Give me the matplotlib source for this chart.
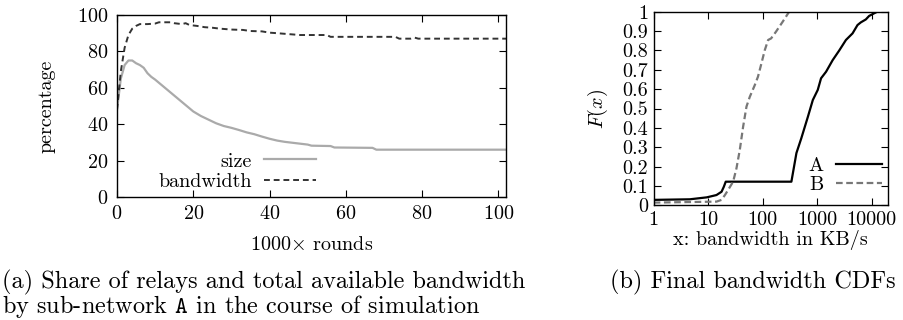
import matplotlib
matplotlib.use("Agg")
import matplotlib.pyplot as plt
import numpy as np
from matplotlib.ticker import FixedLocator, FixedFormatter, LogLocator, NullFormatter

plt.rcParams['font.family'] = 'serif'
plt.rcParams['font.serif'] = ['cmr10']
plt.rcParams['mathtext.fontset'] = 'cm'
plt.rcParams['axes.formatter.use_mathtext'] = True
plt.rcParams['axes.unicode_minus'] = False

# ---------------- data: panel (a) ----------------
rounds_size = [0, 1, 2, 3, 4, 5, 6, 7, 8, 9, 10, 12, 14, 16, 18, 20, 22, 24, 26, 28,
               30, 32, 34, 36, 38, 40, 42, 44, 46, 48, 50, 51, 56, 57, 67, 68, 102]
size_pct = [48, 65, 72.5, 75, 75, 73.5, 72.5, 71, 68, 66, 64.5, 61, 57.5, 54, 50.5, 47,
            44.5, 42.5, 40.5, 39, 38, 36.8, 35.5, 34.5, 33.2, 32, 31, 30.3, 29.8, 29.3,
            28.8, 28.2, 28, 27.2, 27, 26, 26]

rounds_bw = [0, 1, 2, 3, 4, 5, 6, 8, 10, 11, 14, 15, 17, 18, 19, 21, 23, 25, 27, 30,
             33, 35, 38, 40, 42, 45, 48, 55, 56, 73, 74, 77, 78, 79, 102]
bw_pct = [48, 69, 82, 89, 92.5, 94, 95, 95, 95.3, 96, 96, 95.5, 95, 95.5, 94.5, 94,
          93.3, 93, 92.5, 92, 91.8, 91.2, 91, 90.3, 90, 89.5, 89, 89, 88, 88, 87,
          87, 87.6, 87, 87]

a_xticks = [0, 20, 40, 60, 80, 100]
a_yticks = [0, 20, 40, 60, 80, 100]

# ---------------- data: panel (b) ----------------
bwA = [1, 4.6, 9.4, 14.2, 17.6, 19.4, 21, 337, 417, 512, 678, 834, 1027, 1180, 1460,
       1930, 2550, 3380, 4470, 5510, 6350, 7830, 9000, 11000, 12700, 20000]
cdfA = [0.028, 0.031, 0.041, 0.053, 0.07, 0.096, 0.122, 0.122, 0.27, 0.346, 0.458,
        0.544, 0.596, 0.656, 0.69, 0.75, 0.80, 0.854, 0.888, 0.931, 0.945, 0.96,
        0.978, 0.991, 1.0, 1.0]

bwB = [1, 14.2, 17.6, 20.3, 23.3, 28.7, 33, 38, 43.8, 50.5, 58, 71.5, 82, 95, 109,
       126, 143, 176, 233, 307, 20000]
cdfB = [0.014, 0.019, 0.028, 0.053, 0.08, 0.122, 0.19, 0.285, 0.406, 0.51, 0.56,
        0.62, 0.664, 0.733, 0.80, 0.854, 0.862, 0.897, 0.948, 1.0, 1.0]

b_xticks = [1, 10, 100, 1000, 10000]
b_xticklabels = ['1', '10', '100', '1000', '10000']
b_yticks = [0, 0.1, 0.2, 0.3, 0.4, 0.5, 0.6, 0.7, 0.8, 0.9, 1]
b_yticklabels = ['0', '0.1', '0.2', '0.3', '0.4', '0.5', '0.6', '0.7', '0.8', '0.9', '1']

FS = 14.5

fig = plt.figure(figsize=(9.04, 3.2), dpi=100)

# ---------- panel (a) ----------
ax1 = fig.add_axes([117/904, 1-197/320, 389/904, 182/320])
ax1.plot(rounds_size, size_pct, color='#aaaaaa', lw=1.6, label='size')
ax1.plot(rounds_bw, bw_pct, color='#333333', lw=1.4, ls=(0, (3, 2)), label='bandwidth')
ax1.set_xlim(0, 102)
ax1.set_ylim(0, 100)
ax1.xaxis.set_major_locator(FixedLocator(a_xticks))
ax1.yaxis.set_major_locator(FixedLocator(a_yticks))
ax1.tick_params(direction='in', top=True, right=True, length=5, width=0.8,
                labelsize=FS, pad=6)
ax1.set_ylabel('percentage', fontsize=FS, labelpad=16)
ax1.set_xlabel(r'1000$\times$ rounds', fontsize=FS, labelpad=9)
leg1 = ax1.legend(loc='lower right', bbox_to_anchor=(0.512, 0.035), frameon=False,
                  markerfirst=False, fontsize=FS, handlelength=2.6, handletextpad=0.6,
                  labelspacing=0.1, borderpad=0, borderaxespad=0)

# ---------- panel (b) ----------
ax2 = fig.add_axes([653.7/904, 1-205.3/320, 234.3/904, 193.6/320])
ax2.plot(bwA, cdfA, color='black', lw=1.6, label='A')
ax2.plot(bwB, cdfB, color='#777777', lw=1.6, ls=(0, (3, 1.6)), label='B')
ax2.set_xscale('log')
ax2.set_xlim(1, 20000)
ax2.set_ylim(0, 1)
ax2.xaxis.set_major_locator(FixedLocator(b_xticks))
ax2.xaxis.set_major_formatter(FixedFormatter(b_xticklabels))
ax2.xaxis.set_minor_locator(LogLocator(base=10, subs=np.arange(2, 10)))
ax2.xaxis.set_minor_formatter(NullFormatter())
ax2.yaxis.set_major_locator(FixedLocator(b_yticks))
ax2.yaxis.set_major_formatter(FixedFormatter(b_yticklabels))
ax2.tick_params(which='major', direction='in', top=True, right=True, length=5,
                width=0.8, labelsize=FS, pad=4)
ax2.tick_params(which='minor', direction='in', top=True, right=True, length=2.5,
                width=0.6)
ax2.set_ylabel(r'$F(x)$', fontsize=FS, labelpad=9)
ax2.set_xlabel('x: bandwidth in KB/s', fontsize=FS, labelpad=1)
leg2 = ax2.legend(loc='lower right', bbox_to_anchor=(0.975, 0.06), frameon=False,
                  markerfirst=False, fontsize=FS, handlelength=2.3, handletextpad=0.6,
                  labelspacing=0.02, borderpad=0, borderaxespad=0)

for ax in (ax1, ax2):
    for s in ax.spines.values():
        s.set_linewidth(1.0)

# ---------- captions ----------
CFS = 17.5
fig.text(2/904, 1-282/320, '(a) Share of relays and total available bandwidth',
         fontsize=CFS, va='center', ha='left')
fig.text(2/904, 1-307/320, r'by sub-network $\mathtt{A}$ in the course of simulation',
         fontsize=CFS, va='center', ha='left')
fig.text(610/904, 1-282/320, '(b) Final bandwidth CDFs',
         fontsize=CFS, va='center', ha='left')

fig.savefig('out.png', dpi=100)
